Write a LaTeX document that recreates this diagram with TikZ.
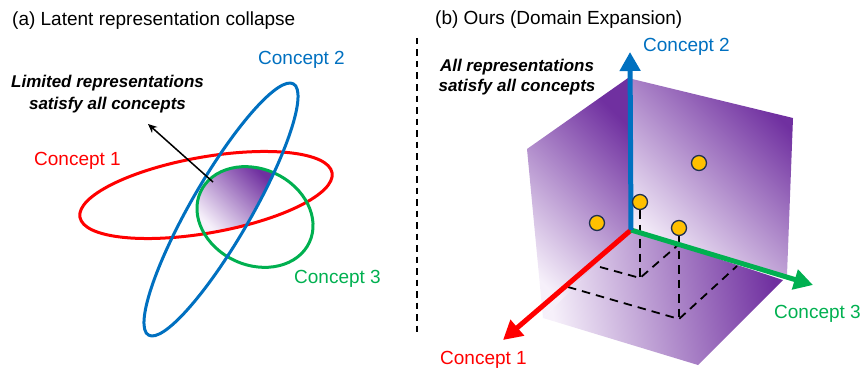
\documentclass[tikz,border=0pt]{standalone}
\usepackage{fontspec}
\setmainfont{Liberation Sans}
\usetikzlibrary{arrows.meta}
\definecolor{cred}{HTML}{FF0000}
\definecolor{cblue}{HTML}{0070C0}
\definecolor{cgreen}{HTML}{00B050}
\definecolor{pdark}{HTML}{7030A0}
\definecolor{plight}{HTML}{F6F0FA}
\definecolor{dotfill}{HTML}{FFC000}
\definecolor{dotline}{HTML}{1F3050}
\begin{document}
\begin{tikzpicture}[x=1pt,y=-1pt,
  lbl/.style={inner sep=0pt, anchor=base west, font=\fontsize{19}{22}\selectfont},
  note/.style={inner sep=0pt, anchor=base, font=\fontsize{17}{20}\selectfont\bfseries\itshape},
  ring/.style={line width=3pt},
  axisarrow/.style={line width=5pt, -{Triangle[length=19pt,width=20pt]}},
  proj/.style={line width=1.8pt, dash pattern=on 8.5pt off 6pt},
  ptdot/.style={circle, draw=dotline, fill=dotfill, line width=1.3pt, minimum size=15pt, inner sep=0pt},
]
\useasboundingbox (0,0) rectangle (862,369);

% ---------- (a) latent representation collapse ----------
\node[lbl] (ta) at (12,26) {(a) Latent representation collapse};

% common region of the three concepts
\begin{scope}
  \clip[rotate around={10:(206,195)}] (206,195) ellipse [x radius=128, y radius=38];
  \clip[rotate around={60:(221,209.5)}] (221,209.5) ellipse [x radius=145, y radius=30];
  \clip[rotate around={-25:(255,217)}] (255,217) ellipse [x radius=60, y radius=48];
  \shade[top color=pdark, bottom color=plight, shading angle=-45] (196,166) rectangle (276,234);
\end{scope}

\draw[ring, cred] [rotate around={10:(206,195)}] (206,195) ellipse [x radius=128, y radius=38];
\draw[ring, cgreen] [rotate around={-25:(255,217)}] (255,217) ellipse [x radius=60, y radius=48];
\draw[ring, cblue] [rotate around={60:(221,209.5)}] (221,209.5) ellipse [x radius=145, y radius=30];

\node[lbl, text=cblue] (c2a) at (258,65) {Concept 2};
\node[lbl, text=cred] (c1a) at (34,165) {Concept 1};
\node[lbl, text=cgreen] (c3a) at (294,283) {Concept 3};
\node[note] (la1) at (107.5,88) {Limited representations};
\node[note] (la2) at (107.5,109) {satisfy all concepts};

\coordinate (core) at (213,182);
\coordinate (tipL) at (148,124);
\draw[line width=1.5pt, -{Stealth[length=9pt,width=8pt]}] (core) -- (tipL);

% divider
\coordinate (v1) at (417,38);
\coordinate (v2) at (417,335);
\draw[line width=1.4pt, dash pattern=on 6.5pt off 5pt] (v1) -- (v2);

% ---------- (b) domain expansion ----------
\node[lbl] (tb) at (435,25) {(b) Ours (Domain Expansion)};

% three faces of the concept space
\shade[top color=pdark, bottom color=plight, shading angle=-45]
  (628,78) -- (527,149) -- (543,318) -- (631,230) -- cycle;
\shade[top color=pdark, bottom color=plight, shading angle=-45]
  (628,78) -- (793,118) -- (787,275) -- (631,230) -- cycle;
\shade[top color=pdark, bottom color=plight, shading angle=-80]
  (631,230) -- (543,318) -- (698,365) -- (783,280) -- cycle;

% projections of two samples onto the floor
\coordinate (s2) at (640,210);
\coordinate (f2) at (640,278);
\coordinate (a2) at (600,267);
\coordinate (b2) at (678,245);
\coordinate (s4) at (679,236);
\coordinate (f4) at (679,319);
\coordinate (a4) at (568,287);
\coordinate (b4) at (737,266);
\draw[proj] (s2) -- (f2);
\draw[proj] (a2) -- (f2) -- (b2);
\draw[proj] (s4) -- (f4);
\draw[proj] (a4) -- (f4) -- (b4);

% axes
\coordinate (O) at (631,230);
\coordinate (e1) at (503,340);
\coordinate (e2) at (630,52);
\coordinate (e3) at (813,285);
\draw[axisarrow, cred] (O) -- (e1);
\draw[axisarrow, cgreen] (O) -- (e3);
\draw[axisarrow, cblue] (O) -- (e2);

% samples
\node[ptdot] (d1) at (699,163) {};
\node[ptdot] (d2) at (640,202) {};
\node[ptdot] (d3) at (597,223) {};
\node[ptdot] (d4) at (679,228) {};

\node[lbl, text=cblue] (c2b) at (643,52) {Concept 2};
\node[lbl, text=cgreen] (c3b) at (774,318) {Concept 3};
\node[lbl, text=cred] (c1b) at (440,364) {Concept 1};
\node[note] (lb1) at (517,72) {All representations};
\node[note] (lb2) at (517,92) {satisfy all concepts};
\end{tikzpicture}
\end{document}
